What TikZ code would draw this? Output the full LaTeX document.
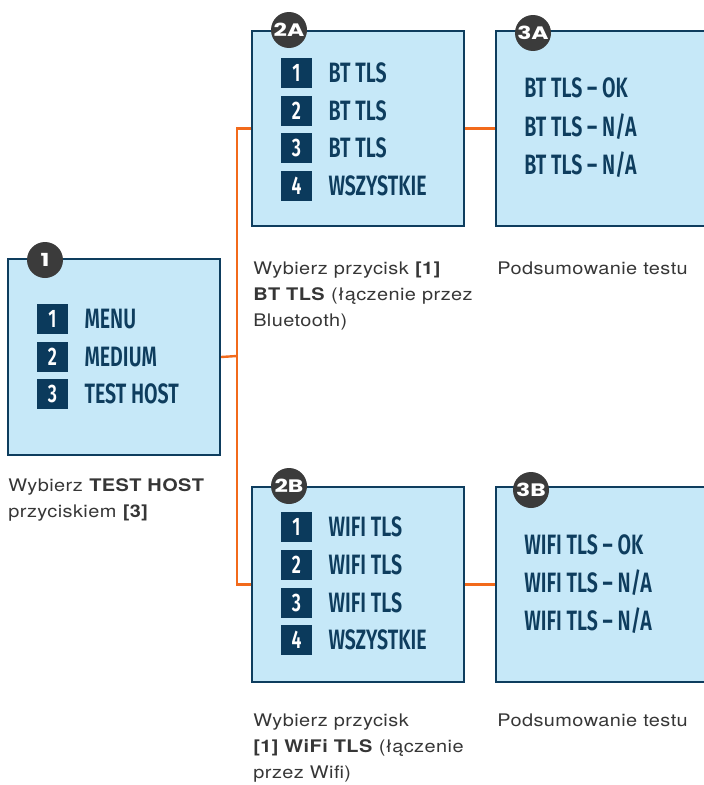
\documentclass[tikz,border=0pt]{standalone}
\usepackage{fontspec}
\usetikzlibrary{positioning}
\setmainfont{TeX Gyre Heros}[FakeStretch=1.15, LetterSpace=2.5]
\newfontfamily\menufont{Fira Sans SemiBold}[FakeStretch=0.7]
\newfontfamily\badgefont{Poppins}[FakeStretch=1.3]
\definecolor{boxfill}{HTML}{C6E8F8}
\definecolor{boxline}{HTML}{0E3D5E}
\definecolor{numfill}{HTML}{0B3A5C}
\definecolor{wire}{HTML}{F26A1B}
\definecolor{badgegray}{HTML}{3B3B3B}
\definecolor{captext}{HTML}{363636}

\begin{document}
\begin{tikzpicture}[
  x=0.75pt, y=-0.75pt,
  panel/.style={
    draw=boxline, fill=boxfill, line width=1.6pt,
    rectangle, minimum width=159pt, minimum height=146.5pt
  },
  badge/.style={
    circle, fill=badgegray, minimum size=27pt, inner sep=0pt,
    text=white, font=\badgefont\bfseries\fontsize{13.5}{13.5}\selectfont
  },
  num/.style={
    fill=numfill, minimum width=23.25pt, minimum height=22.5pt, inner sep=0pt,
    text=white, font=\menufont\fontsize{19}{19}\selectfont
  },
  item/.style={
    inner sep=0pt, text height=14.5pt, text depth=0pt, anchor=west,
    text=boxline, font=\menufont\fontsize{21}{21}\selectfont
  },
  caption/.style={
    inner sep=0pt, anchor=north west, align=left, text=captext,
    font=\fontsize{13}{19.5}\selectfont
  },
  wireline/.style={draw=wire, line width=1.8pt},
]
\useasboundingbox (0,0) rectangle (703,785);

% connectors
\coordinate (split) at (237,356);
\node[panel] (box1)  at (114,357)   {};
\node[panel] (box2a) at (358,128.5) {};
\node[panel, minimum width=172.5pt] (box3a) at (611,128.5) {};
\node[panel] (box2b) at (358,584.5) {};
\node[panel, minimum width=172.5pt] (box3b) at (611,584.5) {};
\draw[wireline] (box1.east) -- (split);
\draw[wireline] (split) |- (box2a.west);
\draw[wireline] (split) |- (box2b.west);
\draw[wireline] (box2a.east) -- (box3a.west);
\draw[wireline] (box2b.east) -- (box3b.west);

% badges
\node[badge] (b1)  at (45,260)  {1};
\node[badge] (b2a) at (289,30)  {2A};
\node[badge] (b3a) at (533,33)  {3A};
\node[badge] (b2b) at (289,486) {2B};
\node[badge] (b3b) at (531,490) {3B};

% step 1
\node[num] (m1) at (52.5,319) {1};
\node[num] (m2) at (52.5,357) {2};
\node[num] (m3) at (52.5,394) {3};
\node[item, right=12pt of m1] (t1) {MENU};
\node[item, right=12pt of m2] (t2) {MEDIUM};
\node[item, right=12pt of m3] (t3) {TEST HOST};

% step 2A
\node[num] (p1) at (296.5,72.5)  {1};
\node[num] (p2) at (296.5,110.5) {2};
\node[num] (p3) at (296.5,148)   {3};
\node[num] (p4) at (296.5,185.5) {4};
\node[item, right=12pt of p1] (u1) {BT TLS};
\node[item, right=12pt of p2] (u2) {BT TLS};
\node[item, right=12pt of p3] (u3) {BT TLS};
\node[item, right=12pt of p4] (u4) {WSZYSTKIE};

% step 3A
\node[item] (r1) at (524,88)  {BT TLS – OK};
\node[item] (r2) at (524,127) {BT TLS – N/A};
\node[item] (r3) at (524,165) {BT TLS – N/A};

% step 2B
\node[num] (q1) at (296.5,527) {1};
\node[num] (q2) at (296.5,565) {2};
\node[num] (q3) at (296.5,603) {3};
\node[num] (q4) at (296.5,640) {4};
\node[item, right=12pt of q1] (v1) {WIFI TLS};
\node[item, right=12pt of q2] (v2) {WIFI TLS};
\node[item, right=12pt of q3] (v3) {WIFI TLS};
\node[item, right=12pt of q4] (v4) {WSZYSTKIE};

% step 3B
\node[item] (s1) at (524,545) {WIFI TLS – OK};
\node[item] (s2) at (524,583) {WIFI TLS – N/A};
\node[item] (s3) at (524,621) {WIFI TLS – N/A};

% captions
\node[caption] (c1)  at (8,478)     {Wybierz \textbf{TEST HOST}\\przyciskiem \textbf{[3]}};
\node[caption] (c2a) at (253,261.5) {Wybierz przycisk \textbf{[1]}\\\textbf{BT TLS} (łączenie przez\\Bluetooth)};
\node[caption] (c3a) at (497,261.5) {Podsumowanie testu};
\node[caption] (c2b) at (253,713.5) {Wybierz przycisk\\\textbf{[1] WiFi TLS} (łączenie\\przez Wifi)};
\node[caption] (c3b) at (497,713.5) {Podsumowanie testu};
\end{tikzpicture}
\end{document}
